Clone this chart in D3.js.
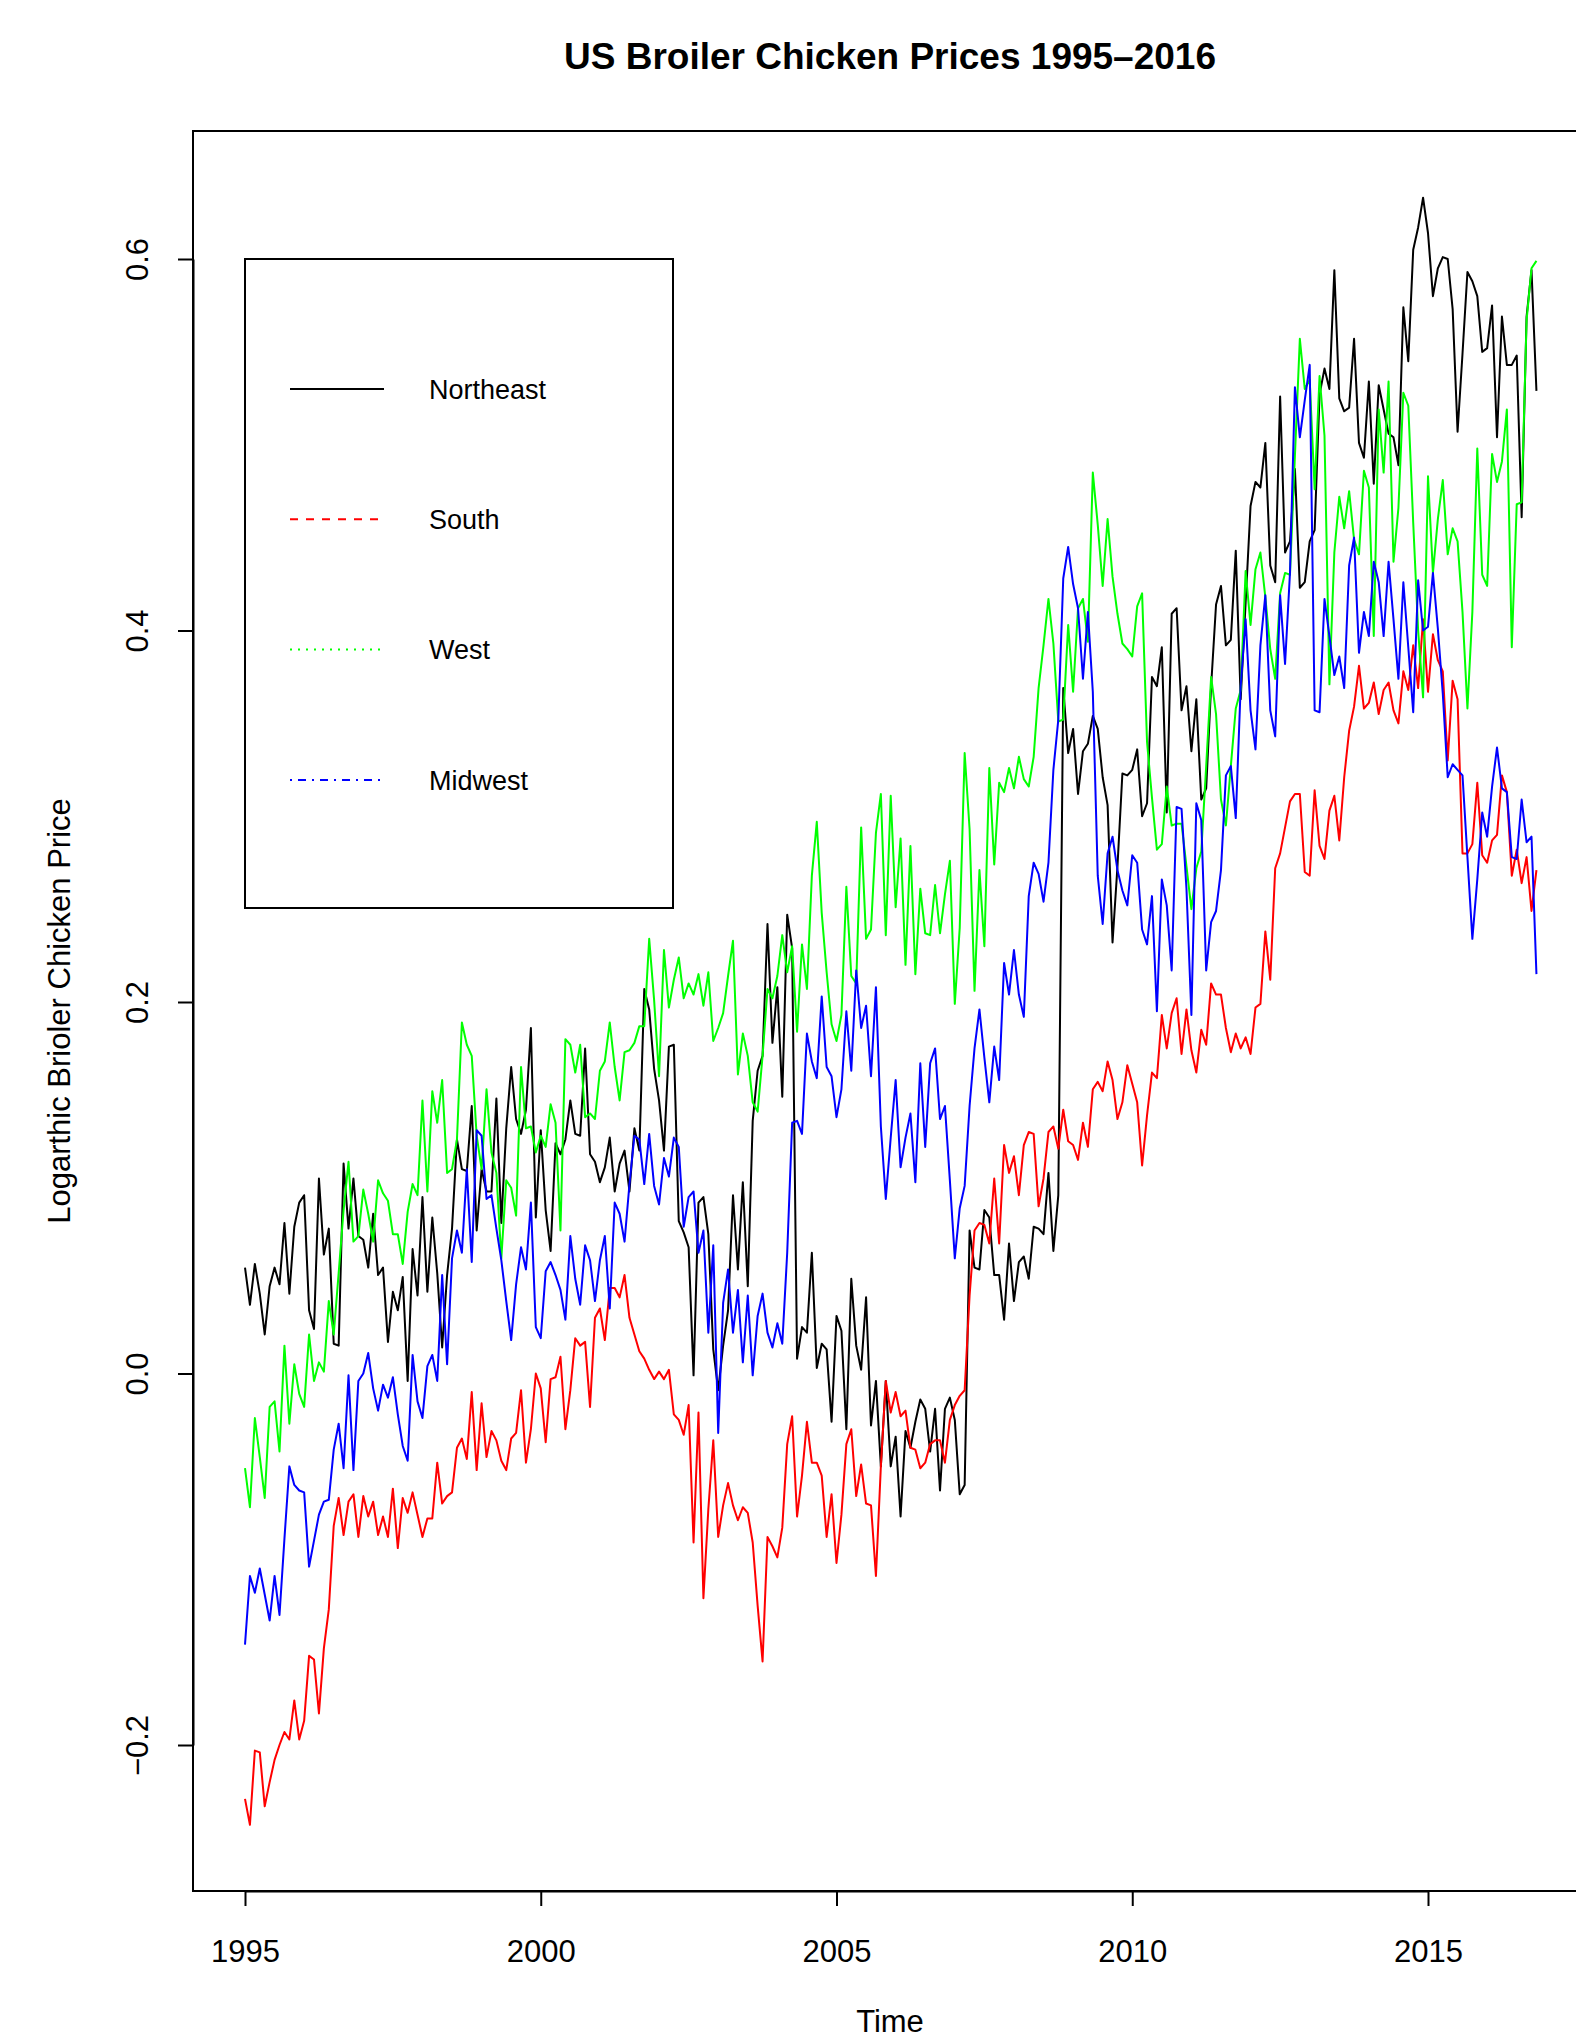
<!DOCTYPE html>
<html>
<head>
<meta charset="utf-8">
<script src="https://cdn.jsdelivr.net/npm/d3@7"></script>
<style>
  body { margin: 0; background: #fff; }
  svg { display: block; font-family: "Liberation Sans", Arial, Helvetica, sans-serif; }
</style>
</head>
<body>
<div id="chart"></div>
<script>
// monthly series, Jan 1995 .. Nov 2016 (one row per year)
const startYear = 1995;
const monthsPerYear = 12;

const northeast = [
  0.057, 0.037, 0.059, 0.043, 0.021, 0.047, 0.057, 0.048, 0.081, 0.043, 0.079, 0.092,
  0.096, 0.034, 0.024, 0.105, 0.064, 0.078, 0.016, 0.015, 0.113, 0.078, 0.105, 0.074,
  0.072, 0.057, 0.086, 0.053, 0.057, 0.017, 0.044, 0.034, 0.052, -0.004, 0.067, 0.042,
  0.095, 0.044, 0.084, 0.054, 0.014, 0.053, 0.078, 0.126, 0.110, 0.109, 0.144, 0.077,
  0.110, 0.098, 0.098, 0.148, 0.081, 0.132, 0.165, 0.137, 0.129, 0.142, 0.186, 0.084,
  0.131, 0.088, 0.066, 0.124, 0.118, 0.126, 0.147, 0.129, 0.128, 0.175, 0.118, 0.114,
  0.103, 0.111, 0.127, 0.098, 0.113, 0.120, 0.098, 0.132, 0.120, 0.207, 0.196, 0.164,
  0.147, 0.120, 0.176, 0.177, 0.082, 0.076, 0.068, -0.001, 0.092, 0.095, 0.075, 0.013,
  -0.009, 0.015, 0.034, 0.096, 0.056, 0.103, 0.047, 0.136, 0.163, 0.171, 0.242, 0.178,
  0.208, 0.149, 0.247, 0.229, 0.008, 0.025, 0.022, 0.065, 0.003, 0.016, 0.013, -0.026,
  0.031, 0.023, -0.030, 0.051, 0.015, 0.002, 0.041, -0.028, -0.004, -0.050, -0.004, -0.050,
  -0.034, -0.077, -0.031, -0.040, -0.026, -0.014, -0.019, -0.042, -0.019, -0.063, -0.019, -0.013,
  -0.025, -0.065, -0.060, 0.077, 0.057, 0.056, 0.088, 0.084, 0.053, 0.053, 0.029, 0.070,
  0.039, 0.060, 0.063, 0.051, 0.079, 0.078, 0.075, 0.108, 0.066, 0.096, 0.369, 0.334,
  0.347, 0.312, 0.335, 0.339, 0.354, 0.347, 0.321, 0.306, 0.232, 0.273, 0.323, 0.322,
  0.325, 0.336, 0.300, 0.307, 0.375, 0.370, 0.391, 0.302, 0.409, 0.412, 0.357, 0.370,
  0.335, 0.363, 0.309, 0.315, 0.370, 0.414, 0.424, 0.392, 0.395, 0.443, 0.363, 0.415,
  0.467, 0.480, 0.477, 0.501, 0.435, 0.426, 0.526, 0.442, 0.448, 0.487, 0.423, 0.426,
  0.448, 0.454, 0.527, 0.541, 0.530, 0.594, 0.525, 0.518, 0.520, 0.557, 0.501, 0.493,
  0.534, 0.479, 0.532, 0.519, 0.506, 0.504, 0.489, 0.574, 0.545, 0.605, 0.617, 0.633,
  0.614, 0.580, 0.595, 0.601, 0.600, 0.573, 0.507, 0.549, 0.593, 0.588, 0.580, 0.550,
  0.552, 0.575, 0.504, 0.569, 0.543, 0.543, 0.548, 0.461, 0.569, 0.594, 0.529
];

const south = [
  -0.229, -0.243, -0.203, -0.204, -0.233, -0.220, -0.208, -0.200, -0.193, -0.197, -0.176, -0.197,
  -0.187, -0.152, -0.154, -0.183, -0.148, -0.127, -0.082, -0.067, -0.087, -0.069, -0.065, -0.088,
  -0.066, -0.077, -0.069, -0.087, -0.077, -0.088, -0.062, -0.094, -0.067, -0.075, -0.064, -0.076,
  -0.088, -0.078, -0.078, -0.048, -0.070, -0.066, -0.064, -0.040, -0.035, -0.046, -0.010, -0.052,
  -0.016, -0.045, -0.031, -0.036, -0.047, -0.052, -0.035, -0.032, -0.009, -0.048, -0.030, 0.000,
  -0.008, -0.037, -0.003, -0.002, 0.009, -0.030, -0.009, 0.019, 0.015, 0.017, -0.018, 0.030,
  0.035, 0.018, 0.046, 0.046, 0.041, 0.053, 0.030, 0.021, 0.012, 0.008, 0.002, -0.003,
  0.001, -0.003, 0.002, -0.022, -0.025, -0.033, -0.017, -0.091, -0.021, -0.121, -0.073, -0.036,
  -0.088, -0.071, -0.059, -0.071, -0.079, -0.072, -0.075, -0.091, -0.125, -0.155, -0.088, -0.093,
  -0.099, -0.083, -0.038, -0.023, -0.077, -0.055, -0.026, -0.048, -0.048, -0.055, -0.088, -0.065,
  -0.102, -0.076, -0.038, -0.030, -0.066, -0.049, -0.070, -0.071, -0.109, -0.050, -0.004, -0.021,
  -0.010, -0.023, -0.020, -0.040, -0.041, -0.051, -0.048, -0.038, -0.036, -0.036, -0.048, -0.025,
  -0.017, -0.012, -0.009, 0.042, 0.077, 0.081, 0.080, 0.070, 0.105, 0.070, 0.123, 0.108,
  0.117, 0.096, 0.123, 0.130, 0.129, 0.090, 0.105, 0.130, 0.133, 0.121, 0.142, 0.125,
  0.123, 0.115, 0.135, 0.122, 0.153, 0.157, 0.152, 0.168, 0.158, 0.137, 0.146, 0.166,
  0.156, 0.146, 0.112, 0.139, 0.162, 0.159, 0.193, 0.175, 0.194, 0.202, 0.172, 0.196,
  0.174, 0.162, 0.185, 0.177, 0.210, 0.204, 0.204, 0.186, 0.173, 0.183, 0.175, 0.181,
  0.172, 0.197, 0.199, 0.238, 0.212, 0.272, 0.280, 0.294, 0.308, 0.312, 0.312, 0.270,
  0.268, 0.314, 0.284, 0.277, 0.303, 0.311, 0.287, 0.321, 0.346, 0.359, 0.381, 0.358,
  0.361, 0.372, 0.355, 0.368, 0.372, 0.357, 0.350, 0.378, 0.368, 0.392, 0.369, 0.406,
  0.367, 0.398, 0.384, 0.378, 0.330, 0.373, 0.363, 0.280, 0.280, 0.285, 0.318, 0.279,
  0.275, 0.287, 0.290, 0.322, 0.313, 0.268, 0.282, 0.264, 0.278, 0.249, 0.271
];

const west = [
  -0.051, -0.072, -0.024, -0.045, -0.067, -0.018, -0.015, -0.042, 0.015, -0.027, 0.005, -0.011,
  -0.018, 0.021, -0.004, 0.006, 0.001, 0.039, 0.021, 0.054, 0.088, 0.114, 0.071, 0.074,
  0.099, 0.086, 0.071, 0.104, 0.097, 0.093, 0.075, 0.075, 0.059, 0.087, 0.102, 0.096,
  0.147, 0.098, 0.152, 0.135, 0.158, 0.108, 0.110, 0.126, 0.189, 0.177, 0.171, 0.128,
  0.110, 0.153, 0.119, 0.108, 0.062, 0.104, 0.100, 0.085, 0.165, 0.132, 0.133, 0.119,
  0.128, 0.122, 0.145, 0.135, 0.077, 0.180, 0.177, 0.162, 0.177, 0.138, 0.140, 0.137,
  0.163, 0.168, 0.189, 0.165, 0.147, 0.173, 0.174, 0.178, 0.187, 0.187, 0.234, 0.201,
  0.160, 0.228, 0.197, 0.212, 0.224, 0.202, 0.210, 0.204, 0.215, 0.198, 0.216, 0.179,
  0.186, 0.194, 0.214, 0.233, 0.161, 0.183, 0.171, 0.146, 0.141, 0.171, 0.207, 0.202,
  0.214, 0.236, 0.216, 0.230, 0.184, 0.231, 0.207, 0.268, 0.297, 0.248, 0.216, 0.188,
  0.179, 0.193, 0.262, 0.214, 0.210, 0.294, 0.234, 0.239, 0.291, 0.312, 0.236, 0.311,
  0.251, 0.288, 0.220, 0.284, 0.215, 0.261, 0.237, 0.236, 0.263, 0.237, 0.258, 0.276,
  0.199, 0.240, 0.334, 0.293, 0.206, 0.271, 0.230, 0.326, 0.274, 0.318, 0.313, 0.326,
  0.315, 0.332, 0.320, 0.316, 0.332, 0.369, 0.392, 0.417, 0.393, 0.351, 0.352, 0.403,
  0.367, 0.412, 0.417, 0.394, 0.485, 0.457, 0.424, 0.460, 0.429, 0.409, 0.393, 0.390,
  0.386, 0.413, 0.420, 0.340, 0.310, 0.282, 0.285, 0.316, 0.295, 0.296, 0.296, 0.273,
  0.250, 0.272, 0.281, 0.327, 0.375, 0.355, 0.309, 0.295, 0.327, 0.358, 0.368, 0.432,
  0.403, 0.433, 0.442, 0.418, 0.390, 0.374, 0.420, 0.431, 0.430, 0.494, 0.557, 0.530,
  0.535, 0.476, 0.537, 0.505, 0.371, 0.442, 0.472, 0.455, 0.475, 0.449, 0.441, 0.486,
  0.477, 0.397, 0.519, 0.485, 0.534, 0.437, 0.466, 0.528, 0.521, 0.458, 0.400, 0.364,
  0.483, 0.431, 0.460, 0.481, 0.441, 0.455, 0.448, 0.410, 0.358, 0.410, 0.498, 0.430,
  0.424, 0.495, 0.480, 0.491, 0.519, 0.391, 0.468, 0.469, 0.567, 0.595, 0.599
];

const midwest = [
  -0.146, -0.109, -0.118, -0.105, -0.119, -0.133, -0.109, -0.130, -0.089, -0.050, -0.060, -0.063,
  -0.064, -0.104, -0.090, -0.076, -0.069, -0.068, -0.041, -0.027, -0.051, -0.001, -0.052, -0.004,
  0.000, 0.011, -0.008, -0.020, -0.006, -0.013, -0.002, -0.022, -0.039, -0.047, 0.010, -0.015,
  -0.024, 0.004, 0.010, -0.004, 0.053, 0.005, 0.062, 0.077, 0.065, 0.110, 0.060, 0.131,
  0.128, 0.094, 0.096, 0.078, 0.061, 0.039, 0.018, 0.048, 0.068, 0.056, 0.092, 0.025,
  0.019, 0.055, 0.060, 0.053, 0.045, 0.029, 0.074, 0.051, 0.037, 0.069, 0.061, 0.039,
  0.061, 0.074, 0.035, 0.092, 0.086, 0.071, 0.102, 0.128, 0.126, 0.102, 0.129, 0.101,
  0.091, 0.116, 0.106, 0.127, 0.122, 0.079, 0.095, 0.098, 0.065, 0.077, 0.022, 0.069,
  -0.032, 0.038, 0.056, 0.022, 0.045, 0.006, 0.042, -0.001, 0.031, 0.043, 0.022, 0.014,
  0.027, 0.016, 0.065, 0.135, 0.136, 0.129, 0.183, 0.168, 0.159, 0.203, 0.165, 0.160,
  0.138, 0.153, 0.195, 0.163, 0.217, 0.186, 0.198, 0.160, 0.208, 0.133, 0.094, 0.127,
  0.158, 0.111, 0.127, 0.140, 0.103, 0.167, 0.122, 0.167, 0.175, 0.137, 0.144, 0.104,
  0.062, 0.089, 0.101, 0.144, 0.175, 0.196, 0.170, 0.146, 0.176, 0.158, 0.221, 0.204,
  0.228, 0.204, 0.192, 0.257, 0.275, 0.269, 0.254, 0.275, 0.325, 0.352, 0.428, 0.445,
  0.425, 0.412, 0.374, 0.410, 0.367, 0.268, 0.242, 0.280, 0.289, 0.271, 0.260, 0.252,
  0.279, 0.275, 0.239, 0.231, 0.257, 0.195, 0.266, 0.252, 0.217, 0.305, 0.304, 0.261,
  0.193, 0.307, 0.298, 0.217, 0.243, 0.249, 0.271, 0.322, 0.327, 0.299, 0.370, 0.406,
  0.357, 0.336, 0.392, 0.419, 0.357, 0.343, 0.419, 0.382, 0.431, 0.531, 0.504, 0.524,
  0.543, 0.357, 0.356, 0.417, 0.397, 0.376, 0.386, 0.369, 0.435, 0.450, 0.388, 0.410,
  0.397, 0.437, 0.426, 0.397, 0.437, 0.406, 0.374, 0.426, 0.391, 0.356, 0.427, 0.400,
  0.402, 0.431, 0.401, 0.366, 0.321, 0.328, 0.325, 0.322, 0.278, 0.234, 0.266, 0.302,
  0.289, 0.316, 0.337, 0.315, 0.313, 0.278, 0.277, 0.309, 0.286, 0.289, 0.215
];

const seriesNames = ['Northeast', 'South', 'West', 'Midwest'];
const seriesColors = ['#000000', '#ff0000', '#00ff00', '#0000ff'];
const legendDash = [null, '8,8', '2,6', '2,6,8,6'];
const xTicks = [1995, 2000, 2005, 2010, 2015];
const yTicks = [-0.2, 0.0, 0.2, 0.4, 0.6];

const width = 1576, height = 2040;
const box = { left: 193, top: 131, right: 1588, bottom: 1891 };

const svg = d3.select('#chart').append('svg')
  .attr('width', width)
  .attr('height', height);

svg.append('rect')
  .attr('width', width)
  .attr('height', height)
  .attr('fill', '#fff');

const x = d3.scaleLinear()
  .domain([1995, 2015])
  .range([245, 1428]);

const y = d3.scaleLinear()
  .domain([-0.2, 0.6])
  .range([1745, 259]);

const line = d3.line()
  .x((d, i) => x(startYear + i / monthsPerYear))
  .y(d => y(d));

// series, drawn in the same order as the legend
[northeast, south, west, midwest].forEach((values, k) => {
  svg.append('path')
    .datum(values)
    .attr('fill', 'none')
    .attr('stroke', seriesColors[k])
    .attr('stroke-width', 2)
    .attr('stroke-linejoin', 'round')
    .attr('d', line);
});

// plot box
svg.append('rect')
  .attr('x', box.left)
  .attr('y', box.top)
  .attr('width', box.right - box.left)
  .attr('height', box.bottom - box.top)
  .attr('fill', 'none')
  .attr('stroke', '#000')
  .attr('stroke-width', 2);

// x axis
const xAxis = svg.append('g')
  .attr('transform', `translate(0,${box.bottom})`)
  .call(d3.axisBottom(x).tickValues(xTicks).tickFormat(d3.format('d')).tickSize(15).tickSizeOuter(0));
xAxis.selectAll('path, line').attr('stroke', '#000').attr('stroke-width', 2);
xAxis.selectAll('text')
  .attr('y', 71)
  .attr('dy', 0)
  .attr('fill', '#000')
  .style('font-size', '31px')
  .style('font-family', '"Liberation Sans", Arial, sans-serif');

// y axis, labels turned like R's default las = 0
const yAxis = svg.append('g')
  .attr('transform', `translate(${box.left},0)`)
  .call(d3.axisLeft(y).tickValues(yTicks).tickFormat(d3.format('.1f')).tickSize(15).tickSizeOuter(0));
yAxis.selectAll('path, line').attr('stroke', '#000').attr('stroke-width', 2);
yAxis.selectAll('text')
  .attr('transform', 'rotate(-90)')
  .attr('x', 0)
  .attr('y', -45)
  .attr('dy', 0)
  .attr('text-anchor', 'middle')
  .attr('fill', '#000')
  .style('font-size', '31px')
  .style('font-family', '"Liberation Sans", Arial, sans-serif');

// titles
svg.append('text')
  .attr('x', 890)
  .attr('y', 69)
  .attr('text-anchor', 'middle')
  .attr('font-weight', 'bold')
  .attr('font-size', '37px')
  .text('US Broiler Chicken Prices 1995\u20132016');

svg.append('text')
  .attr('x', 890)
  .attr('y', 2032)
  .attr('text-anchor', 'middle')
  .attr('font-size', '31px')
  .text('Time');

svg.append('text')
  .attr('transform', `translate(70,${(box.top + box.bottom) / 2}) rotate(-90)`)
  .attr('text-anchor', 'middle')
  .attr('font-size', '31px')
  .text('Logarthic Brioler Chicken Price');

// legend
const legend = svg.append('g');
legend.append('rect')
  .attr('x', 245)
  .attr('y', 259)
  .attr('width', 428)
  .attr('height', 649)
  .attr('fill', '#fff')
  .attr('stroke', '#000')
  .attr('stroke-width', 2);

seriesNames.forEach((name, k) => {
  const ly = 389 + k * 130.3;
  legend.append('line')
    .attr('x1', 290)
    .attr('x2', 384)
    .attr('y1', ly)
    .attr('y2', ly)
    .attr('stroke', seriesColors[k])
    .attr('stroke-width', 2)
    .attr('stroke-dasharray', legendDash[k]);
  legend.append('text')
    .attr('x', 429)
    .attr('y', ly)
    .attr('dy', '0.36em')
    .attr('font-size', '27px')
    .text(name);
});
</script>
</body>
</html>
